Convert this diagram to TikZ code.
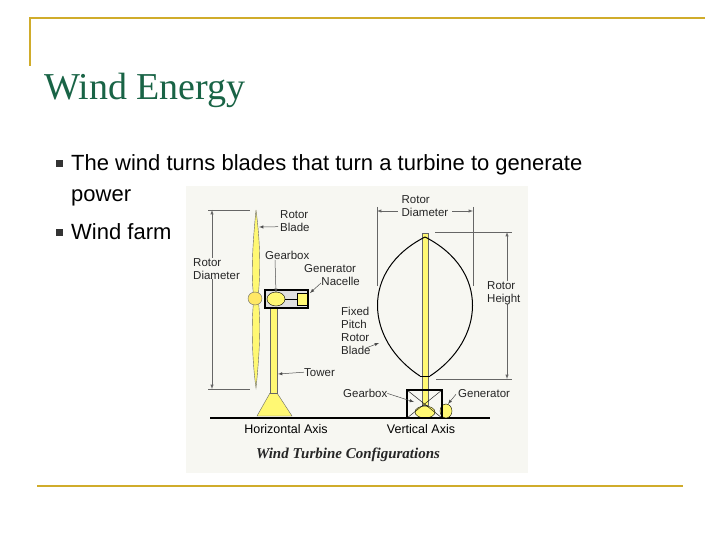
\documentclass[tikz,border=0pt]{standalone}
\usepackage{fontspec}
\setmainfont{Liberation Serif}
\setsansfont{Liberation Sans}
\definecolor{titlegreen}{RGB}{25,100,70}
\definecolor{imgbg}{RGB}{247,247,242}
\begin{document}
\begin{tikzpicture}[x=1pt,y=-1pt,
  lbl/.style={font=\sffamily\fontsize{11.5}{13}\selectfont,text=black!85,inner sep=0pt,align=left},
  yel/.style={fill=yellow!55!white,draw=black!60,line width=0.4pt},
  dim/.style={draw=black!60,line width=0.5pt},
  lead/.style={draw=black!70,line width=0.5pt,-latex},
  gold/.style={draw=yellow!60!orange!80!black,line width=2.2pt}]
\useasboundingbox (0,0) rectangle (720,540);
\fill[white] (0,0) rectangle (720,540);
% slide frame
\draw[gold] (30,66) -- (30,18) -- (705,18);
\draw[gold] (37,486) -- (683,486);
\node[anchor=base west,inner sep=0pt,text=titlegreen,font=\fontsize{38}{40}\selectfont] (title) at (44,100) {Wind Energy};
% bullets
\fill[black!80] (56,160) rectangle (63,167);
\fill[black!80] (56,229) rectangle (63,236);
\node[anchor=base west,inner sep=0pt,font=\sffamily\fontsize{22}{26}\selectfont] (b1) at (71,171) {The wind turns blades that turn a turbine to generate};
\node[anchor=base west,inner sep=0pt,font=\sffamily\fontsize{22}{26}\selectfont] (b1b) at (71,202) {power};
\node[anchor=base west,inner sep=0pt,font=\sffamily\fontsize{22}{26}\selectfont] (b2) at (71,240) {Wind farm};
% image
\fill[imgbg] (186,186) rectangle (528,473);
% ground
\draw[line width=1.6pt] (210,418) -- (490,418);
% horizontal turbine
\fill[yel] (292,416) -- (257,416) -- (270,393) -- (277,393) -- cycle;
\fill[yel] (270,305) rectangle (277,393);
\fill[yel] (256,210) .. controls (252,250) and (251,280) .. (254,298) .. controls (251,320) and (252,360) .. (256,388) .. controls (260,350) and (261,320) .. (258,298) .. controls (261,270) and (260,240) .. (256,210);
\fill[yel,fill=orange!30!yellow!60] (255,298.5) ellipse (7 and 6.5);
\draw[line width=1.2pt,fill=black!12] (265,290) rectangle (308,308);
\fill[yel,draw=black] (276,299) ellipse (9 and 7);
\fill[yel,draw=black] (297,293) rectangle (307,305);
\draw (285,299) -- (297,299);
% HA dims
\coordinate (dt) at (212,210); \coordinate (db) at (212,389);
\draw[dim,latex-latex] (dt) -- (db);
\draw[dim] (208,210) -- (250,210); \draw[dim] (208,389) -- (250,389);
\node[lbl,fill=imgbg,anchor=north west] (rd1) at (193,258) {Rotor\\Diameter};
\node[lbl,anchor=north west] (rb) at (280,210) {Rotor\\Blade};
\draw[lead] (rb.west) ++(-2,6) coordinate (rbl) -- (259,227);
\node[lbl,anchor=north west] (gb1) at (265,251) {Gearbox};
\draw[lead] (gb1.south west) ++(10,0) -- (276,293);
\node[lbl,anchor=north west] (gen1) at (304,264) {Generator\\\hspace*{1.5em}Nacelle};
\draw[lead] (321,283) -- (310,293);
\node[lbl,anchor=north west] (tw) at (304,368) {Tower};
\draw[lead] (tw.west) -- (278,374);
% vertical turbine
\fill[yel] (422,233) rectangle (428,405);
\draw[line width=1pt] (425,237) .. controls (360,270) and (365,340) .. (420,376);
\draw[line width=1pt] (425,237) .. controls (490,270) and (485,340) .. (430,376);
\draw[line width=0.4pt] (420,376) -- (430,376);
\fill[yel,draw=black] (425,412) ellipse (10 and 6);
\fill[yel,draw=black] (446,411) ellipse (6 and 7);
\draw[line width=1.2pt] (407,390) rectangle (442,418);
\draw (407,390) -- (442,418); \draw (442,390) -- (407,418);
% VA dims
\coordinate (vl) at (377,211); \coordinate (vr) at (473,211);
\draw[dim,latex-] (vl) -- (398,211); \draw[dim,-latex] (452,211) -- (vr);
\draw[dim] (377,207) -- (377,286); \draw[dim] (473,207) -- (473,286);
\node[lbl,anchor=north] (rd2) at (425,195) {Rotor\\Diameter};
\draw[dim,latex-latex] (507,232) -- (507,379);
\draw[dim] (435,232) -- (512,232); \draw[dim] (436,379) -- (512,379);
\node[lbl,anchor=north west,fill=imgbg] (rh) at (487,281) {Rotor\\Height};
\node[lbl,anchor=north west] (fp) at (341,307) {Fixed\\Pitch\\Rotor\\Blade};
\draw[lead] (366,348) -- (379,343);
\node[lbl,anchor=north west] (gb2) at (343,389) {Gearbox};
\draw[lead] (gb2.east) -- (414,402);
\node[lbl,anchor=north west] (gen2) at (458,389) {Generator};
\draw[lead] (gen2.west) ++(-2,1) -- (448,404);
% captions
\node[font=\sffamily\fontsize{12.5}{14}\selectfont,inner sep=0pt] (ha) at (286,429) {Horizontal Axis};
\node[font=\sffamily\fontsize{12.5}{14}\selectfont,inner sep=0pt] (va) at (421,429) {Vertical Axis};
\node[font=\bfseries\itshape\fontsize{15}{17}\selectfont,inner sep=0pt,text=black!85] (cap) at (348,455) {Wind Turbine Configurations};
\end{tikzpicture}
\end{document}
